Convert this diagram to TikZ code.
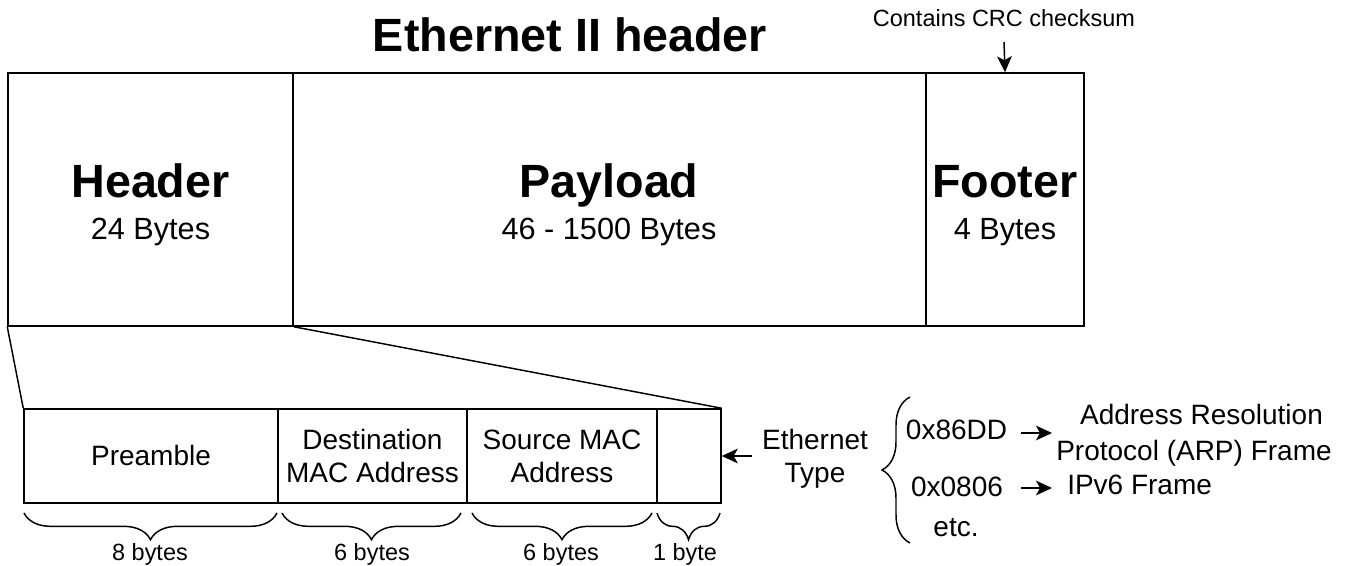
\documentclass[tikz,border=0pt]{standalone}
\usepackage{fontspec}
\setmainfont{Liberation Sans}
\usetikzlibrary{arrows.meta,decorations.pathreplacing,fit}
\begin{document}
\begin{tikzpicture}[x=0.75pt,y=-0.75pt,
  box/.style={draw,line width=1.1pt,inner sep=0pt},
  txt/.style={anchor=base,inner sep=0pt},
  big/.style={txt,font=\fontsize{35}{40}\selectfont\bfseries},
  sub/.style={txt,font=\fontsize{23}{27}\selectfont},
  med/.style={txt,font=\fontsize{21}{25}\selectfont},
  sml/.style={txt,font=\fontsize{17.6}{21}\selectfont},
  arr/.style={line width=1.1pt,-{Stealth[length=12pt,width=11pt,inset=3pt]}},
  ln/.style={line width=1.1pt},
]
\useasboundingbox (0,0) rectangle (1349,566);
% title and note
\node[big] (title) at (570,52) {Ethernet II header};
\node[sml] (crc) at (1004,27) {Contains CRC checksum};
\coordinate (crcTip) at (1004,42);
% top frame
\node[box,fit={(8,73)(293,326)}] (hdr) {};
\node[box,fit={(293,73)(926,326)}] (pay) {};
\node[box,fit={(926,73)(1084,326)}] (foot) {};
\node[big] (hdrT) at (150.5,198) {Header};
\node[sub] (hdrS) at (150.5,240) {24 Bytes};
\node[big] (payT) at (609,198) {Payload};
\node[sub] (payS) at (609,240) {46 - 1500 Bytes};
\node[big] (footT) at (1005,198) {Footer};
\node[sub] (footS) at (1005,240) {4 Bytes};
\draw[arr] (crcTip) -- (foot.north);
% header detail
\node[box,fit={(24,409)(278,503)}] (pre) {};
\node[box,fit={(278,409)(467,503)}] (dst) {};
\node[box,fit={(467,409)(657,503)}] (src) {};
\node[box,fit={(657,409)(721,503)}] (etb) {};
\node[med] (preT) at (151,465) {Preamble};
\node[med] (dstT1) at (372.5,450) {Destination};
\node[med] (dstT2) at (372.5,482) {MAC Address};
\node[med] (srcT1) at (562,450) {Source MAC};
\node[med] (srcT2) at (562,482) {Address};
\draw[ln] (hdr.south west) -- (pre.north west);
\draw[ln] (hdr.south east) -- (etb.north east);
% braces
\draw[ln,decorate,decoration={brace,mirror,amplitude=20pt}] (24,513) -- (277,513);
\draw[ln,decorate,decoration={brace,mirror,amplitude=20pt}] (282,513) -- (461,513);
\draw[ln,decorate,decoration={brace,mirror,amplitude=20pt}] (472,513) -- (652,513);
\draw[ln,decorate,decoration={brace,mirror,amplitude=20pt}] (657,513) -- (720,513);
\node[sml] (b1) at (150,560) {8 bytes};
\node[sml] (b2) at (372,560) {6 bytes};
\node[sml] (b3) at (561,560) {6 bytes};
\node[sml] (b4) at (685,560) {1 byte};
% ethernet type
\node[med] (et1) at (815,449) {Ethernet};
\node[med] (et2) at (815,482) {Type};
\coordinate (etTail) at (752,456);
\draw[arr] (etTail) -- (etb.east);
\draw[ln,decorate,decoration={brace,amplitude=21pt}] (910,543) -- (910,397);
\node[med] (h1) at (956.5,440) {0x86DD};
\node[med] (h2) at (957,496) {0x0806};
\node[med] (h3) at (956,536) {etc.};
\coordinate (a1s) at (1021,433);
\coordinate (a1e) at (1052,433);
\coordinate (a2s) at (1021,488);
\coordinate (a2e) at (1052,488);
\draw[arr] (a1s) -- (a1e);
\draw[arr] (a2s) -- (a2e);
\node[med] (arp1) at (1201.5,425) {Address Resolution};
\node[med] (arp2) at (1194,460) {Protocol (ARP) Frame};
\node[med,anchor=base west] (ipv6) at (1067,494) {IPv6 Frame};
\end{tikzpicture}
\end{document}
